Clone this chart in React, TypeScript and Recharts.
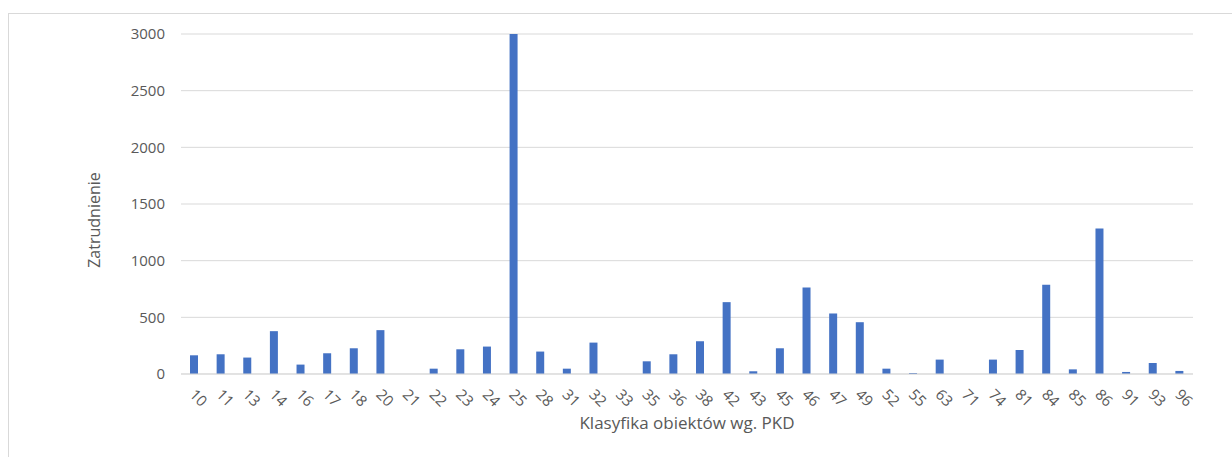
import React from "react";
import { BarChart, Bar, XAxis, YAxis, CartesianGrid, Label } from "recharts";

const categories = ["10","11","13","14","16","17","18","20","21","22","23","24","25","28","31","32","33","35","36","38","42","43","45","46","47","49","52","55","63","71","74","81","84","85","86","91","93","96"];
const employment = [165,174,145,378,83,183,227,387,0,47,218,242,3000,198,47,277,0,112,174,289,634,24,227,764,534,457,47,9,127,0,127,212,788,41,1283,18,97,27];
const yTicks = [0,500,1000,1500,2000,2500,3000];

const data = categories.map((c, i) => ({ pkd: c, value: employment[i] }));

const FONT = "'Open Sans', sans-serif";
const TXT = "#595959";
const GRID = "#d9d9d9";

const XTick = (props: any) => {
  const { x, y, payload } = props;
  return (
    <g transform={`translate(${x + 2},${y})`}>
      <text transform="rotate(45)" dy="0.71em" textAnchor="start" fill={TXT} fontSize={15} fontFamily={FONT}>
        {payload.value}
      </text>
    </g>
  );
};

const YTitle = (props: any) => {
  const { viewBox } = props;
  const cx = 85;
  const cy = viewBox.y + viewBox.height / 2 + 16;
  return (
    <text x={cx} y={cy} transform={`rotate(-90, ${cx}, ${cy})`} textAnchor="middle" dominantBaseline="central" fill={TXT} fontSize={16} fontFamily={FONT}>
      Zatrudnienie
    </text>
  );
};

export default function App() {
  return (
    <div
      style={{
        position: "absolute",
        left: 8,
        top: 13,
        width: 1224,
        height: 444,
        borderTop: `1px solid ${GRID}`,
        borderLeft: `1px solid ${GRID}`,
        boxSizing: "border-box",
        background: "#fff",
      }}
    >
      <BarChart width={1224} height={444} data={data} margin={{ top: 20, right: 40, bottom: 24, left: -1 }} barSize={8}>
        <CartesianGrid vertical={false} stroke={GRID} strokeWidth={1} />
        <XAxis
          dataKey="pkd"
          interval={0}
          tickLine={false}
          tickSize={0}
          tickMargin={14}
          axisLine={{ stroke: GRID }}
          height={60}
          tick={<XTick />}
        >
          <Label value="Klasyfika obiektów wg. PKD" position="insideBottom" offset={5} fill={TXT} fontSize={17} fontFamily={FONT} />
        </XAxis>
        <YAxis
          width={173}
          domain={[0, 3000]}
          ticks={yTicks}
          allowDataOverflow
          axisLine={false}
          tickLine={false}
          tickMargin={10}
          tick={{ fill: TXT, fontSize: 15, fontFamily: FONT }}
        >
          <Label content={<YTitle />} />
        </YAxis>
        <Bar dataKey="value" fill="#4472C4" isAnimationActive={false} />
      </BarChart>
    </div>
  );
}
